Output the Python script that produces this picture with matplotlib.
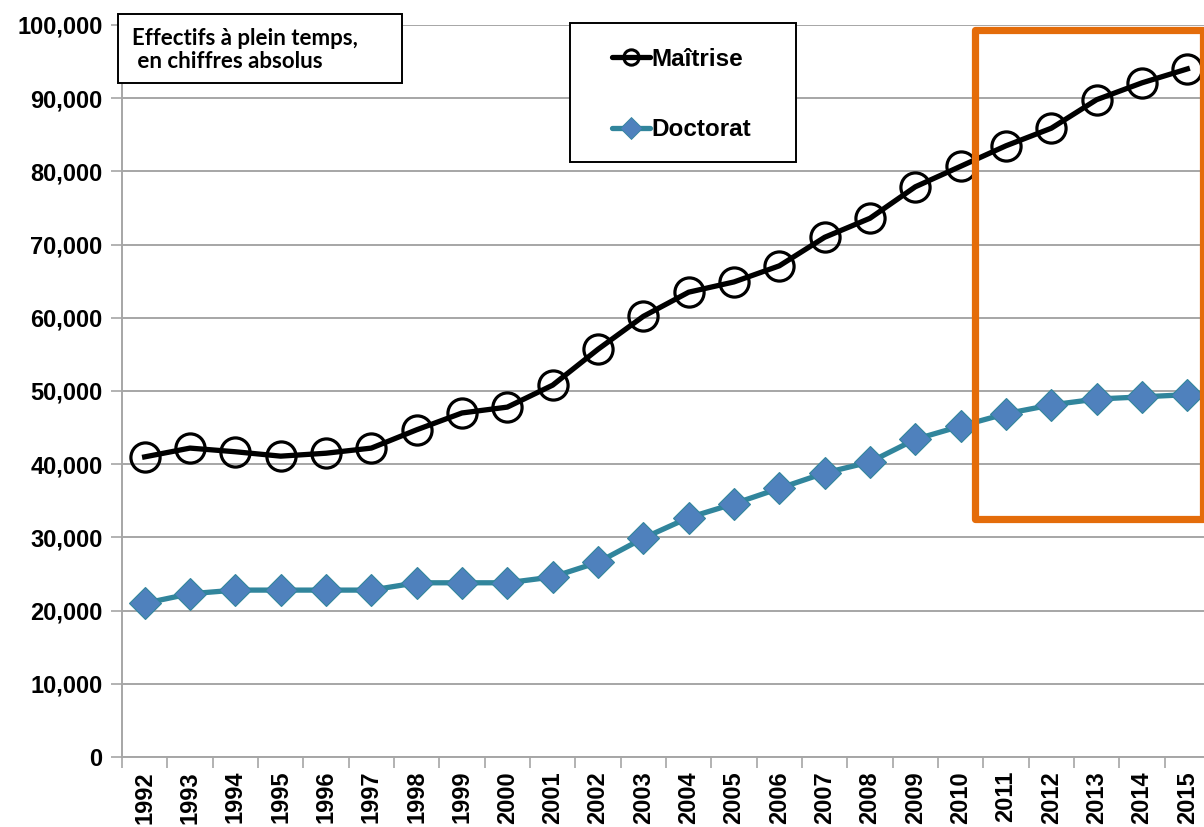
"""
Effectifs a plein temps (maitrise / doctorat), 1992-2015.
Line chart with a highlight box on 2011-2015.
"""

import matplotlib
matplotlib.use("Agg")
import matplotlib.pyplot as plt
from matplotlib.lines import Line2D
from matplotlib.patches import Rectangle
from matplotlib.ticker import FuncFormatter, FixedLocator

W, H = 1204, 827

years = [str(y) for y in range(1992, 2016)]
maitrise = [41000, 42200, 41700, 41100, 41500, 42200, 44700, 47000, 47800, 50800,
            55700, 60200, 63500, 64900, 67100, 71000, 73600, 77900, 80700, 83500,
            85900, 89800, 92100, 94000]
doctorat = [21000, 22300, 22800, 22800, 22800, 22800, 23800, 23800, 23800, 24600,
            26600, 29900, 32700, 34600, 36700, 38800, 40300, 43400, 45200, 46900,
            48100, 48900, 49200, 49500]

series_labels = ["Maîtrise", "Doctorat"]
box_title = "Effectifs à plein temps,\n en chiffres absolus"

# highlight box (category index / data units)
HL_X0, HL_X1 = 18.32, 23.35
HL_Y0, HL_Y1 = 32500, 99300

BLACK = "#000000"
TEAL = "#31859C"
BLUE = "#4F81BD"
ORANGE = "#E46C0A"
GRID = "#A6A6A6"

ARIAL = ["Liberation Sans", "DejaVu Sans"]


def fx(px):
    return px / W


def fy(py):
    return 1 - py / H


fig = plt.figure(figsize=(W / 100, H / 100), dpi=100)
ax = fig.add_axes([fx(122), fy(757), 1088 / W, (757 - 25) / H])

x = list(range(len(years)))
ax.plot(x, maitrise, color=BLACK, lw=3.8, marker="o", ms=21, mfc="none",
        mec=BLACK, mew=2.3, zorder=4, clip_on=False)
ax.plot(x, doctorat, color=TEAL, lw=3.8, marker="D", ms=16, mfc=BLUE,
        mec=TEAL, mew=0.8, zorder=4, clip_on=False)

ax.set_xlim(-0.5, len(years) - 0.5)
ax.set_ylim(0, 100000)
ax.set_yticks(range(0, 100001, 10000))
ax.yaxis.set_major_formatter(FuncFormatter(lambda v, p: f"{int(v):,}"))
ax.yaxis.grid(True, color=GRID, lw=1.4)
ax.set_axisbelow(True)

ax.set_xticks(x)
ax.set_xticklabels(years, rotation=90)
ax.xaxis.set_minor_locator(FixedLocator([i - 0.5 for i in range(len(years) + 1)]))
ax.tick_params(axis="x", which="major", length=0, pad=10)
ax.tick_params(axis="x", which="minor", length=8, width=1.2, color=GRID, direction="out")
ax.tick_params(axis="y", length=8, width=1.2, color=GRID, direction="out", pad=6)

for lab in ax.get_xticklabels() + ax.get_yticklabels():
    lab.set_fontfamily(ARIAL)
    lab.set_fontweight("bold")
    lab.set_fontsize(17)

for side in ("top", "right"):
    ax.spines[side].set_visible(False)
for side in ("left", "bottom"):
    ax.spines[side].set_color(GRID)
    ax.spines[side].set_linewidth(1.4)

# orange highlight
ax.add_patch(Rectangle((HL_X0, HL_Y0), HL_X1 - HL_X0, HL_Y1 - HL_Y0, fill=False,
                       ec=ORANGE, lw=5.2, joinstyle="round", zorder=5, clip_on=False))

# title box
fig.patches.append(Rectangle((fx(118), fy(83)), (402 - 118) / W, (83 - 14) / H,
                             transform=fig.transFigure, fc="white", ec=BLACK, lw=1.4,
                             zorder=6))
fig.text(fx(132), fy(50), box_title, ha="left", va="center", fontsize=16,
         fontweight="bold", family=["Lato", "DejaVu Sans"], linespacing=1.15, zorder=7)

# legend box
fig.patches.append(Rectangle((fx(570), fy(162)), (796 - 570) / W, (162 - 23) / H,
                             transform=fig.transFigure, fc="white", ec=BLACK, lw=1.4,
                             zorder=6))
legend_rows = [
    (57, dict(color=BLACK, marker="o", ms=11, mfc="none", mec=BLACK, mew=2.2)),
    (128, dict(color=TEAL, marker="D", ms=11, mfc=BLUE, mec=TEAL, mew=0.6)),
]
for (py, style), label in zip(legend_rows, series_labels):
    fig.lines.append(Line2D([fx(612), fx(631), fx(650)], [fy(py)] * 3, lw=3.8,
                            markevery=[1], solid_capstyle="round",
                            transform=fig.transFigure, zorder=7, **style))
    fig.text(fx(651), fy(py + 2), label, ha="left", va="center", fontsize=17.5,
             fontweight="bold", family=ARIAL, zorder=7)

fig.savefig("out.png", dpi=100)
